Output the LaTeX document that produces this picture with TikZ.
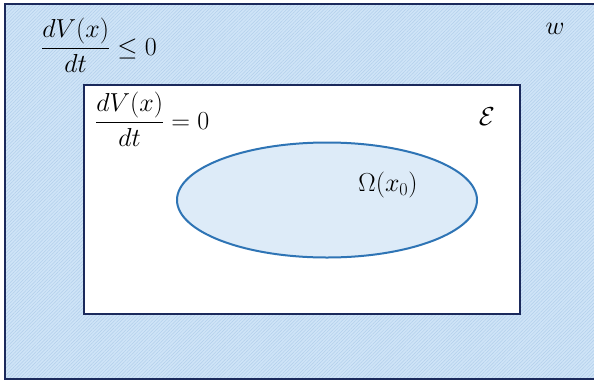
\documentclass[tikz,border=0pt]{standalone}
\usepackage{fix-cm}
\usepackage{amsmath,amssymb}
\usetikzlibrary{patterns.meta,shapes.geometric}
\definecolor{bgblue}{HTML}{CFE4F7}
\definecolor{hatch}{HTML}{B2CFEB}
\definecolor{navy}{HTML}{1B2A5C}
\definecolor{ellblue}{HTML}{2E74B5}
\definecolor{ellfill}{HTML}{DDEBF8}
\tikzset{
  region/.style={draw=navy, line width=1.8pt, inner sep=0pt, outer sep=0pt},
  hatched/.style={preaction={fill=bgblue}, pattern={Lines[angle=45,distance=2.4pt,line width=0.5pt]}, pattern color=hatch},
  lab/.style={font=\fontsize{26}{31}\selectfont, inner sep=0pt, text=black}
}
\begin{document}
\begin{tikzpicture}[x=1pt,y=-1pt]
\useasboundingbox (0,0) rectangle (594,381);
\clip (0,0) rectangle (594,381);
\fill[white] (0,0) rectangle (594,381);
\node[region, hatched, minimum width=600pt, minimum height=375pt] (outer) at (305,191.5) {};
\node[region, fill=white, minimum width=436pt, minimum height=229pt] (inner) at (302,199.5) {};
\node[ellipse, draw=ellblue, line width=2pt, fill=ellfill, minimum width=300pt, minimum height=115pt, inner sep=0pt] (omega) at (327,200) {};
\node[lab, anchor=base west] (outerlab) at (41,55) {$\dfrac{dV(x)}{dt}\leq 0$};
\node[lab, anchor=base west] (innerlab) at (95,129) {$\dfrac{dV(x)}{dt}=0$};
\node[lab] (w) at (555,29) {$w$};
\node[lab] (eps) at (487,117) {$\mathcal{E}$};
\node[lab] (om) at (388,185) {$\Omega(x_0)$};
\end{tikzpicture}
\end{document}
